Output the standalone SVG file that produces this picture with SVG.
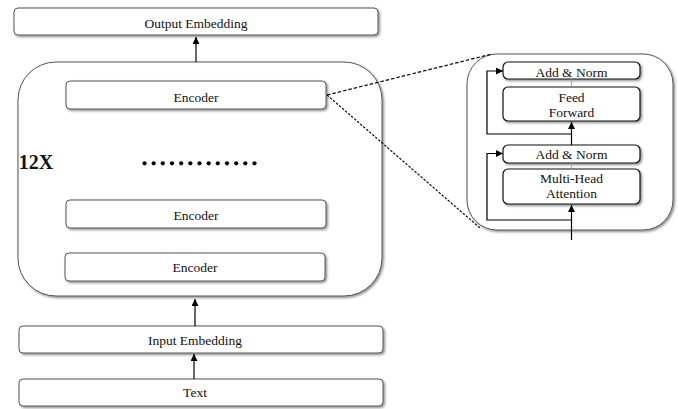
<svg xmlns="http://www.w3.org/2000/svg" width="678" height="409" viewBox="0 0 678 409">
<defs>
<filter id="sh" x="-10%" y="-20%" width="120%" height="150%">
<feDropShadow dx="1.5" dy="1.5" stdDeviation="1" flood-color="#000" flood-opacity="0.45"/>
</filter>
<marker id="ah" viewBox="0 0 10 10" refX="10" refY="5" markerWidth="8" markerHeight="7" markerUnits="userSpaceOnUse" orient="auto">
<path d="M0,0 L10,5 L0,10 z" fill="#000"/>
</marker>
</defs>
<style>
.box{fill:#fff;stroke:#555;stroke-width:1;filter:url(#sh)}
.sbox{fill:#fff;stroke:#111;stroke-width:1.2;filter:url(#sh)}
.big{fill:#fff;stroke:#555;stroke-width:1;filter:url(#sh)}
text{font-family:"Liberation Serif","Times New Roman",serif;font-size:13.5px;fill:#111;text-anchor:middle}
.ln{stroke:#000;stroke-width:1.2;fill:none}
.thin{stroke:#999;stroke-width:0.8;fill:none}
</style>
<rect width="678" height="409" fill="#fff"/>
<g id="encoder-stack">
<rect class="big" x="18" y="62" width="364" height="234" rx="38" ry="38"/>
<text x="36" y="169" style="font-size:20px;font-weight:bold">12X</text>
<g id="dots" fill="#000">
<circle cx="144.5" cy="163.3" r="2.1"/><circle cx="153.7" cy="163.3" r="2.1"/><circle cx="162.8" cy="163.3" r="2.1"/><circle cx="172" cy="163.3" r="2.1"/><circle cx="181.2" cy="163.3" r="2.1"/><circle cx="190.3" cy="163.3" r="2.1"/><circle cx="199.5" cy="163.3" r="2.1"/><circle cx="208.7" cy="163.3" r="2.1"/><circle cx="217.8" cy="163.3" r="2.1"/><circle cx="227" cy="163.3" r="2.1"/><circle cx="236.2" cy="163.3" r="2.1"/><circle cx="245.3" cy="163.3" r="2.1"/><circle cx="254.5" cy="163.3" r="2.1"/>
</g>
</g>
<g id="output-embedding"><rect class="box" x="14" y="8" width="364" height="27" rx="4"/><text x="196" y="28">Output Embedding</text></g>
<g id="encoder1"><rect class="box" x="66" y="81" width="260" height="28" rx="4"/><text x="196" y="101.5">Encoder</text></g>
<g id="encoder2"><rect class="box" x="66" y="200" width="260" height="28" rx="4"/><text x="196" y="220">Encoder</text></g>
<g id="encoder3"><rect class="box" x="65" y="253" width="260" height="28" rx="4"/><text x="195" y="272">Encoder</text></g>
<g id="input-embedding"><rect class="box" x="19" y="326" width="364" height="27" rx="4"/><text x="195" y="345">Input Embedding</text></g>
<g id="text"><rect class="box" x="19" y="379" width="364" height="27" rx="4"/><text x="195" y="397">Text</text></g>
<g id="detail-panel">
<rect class="big" x="467" y="54" width="206" height="176" rx="30" ry="30"/>
</g>
<g id="add-norm-1"><rect class="sbox" x="503" y="62" width="137" height="17" rx="5"/><text x="571.5" y="76.5">Add &amp; Norm</text></g>
<g id="feed-forward"><rect class="sbox" x="503" y="87" width="137" height="34" rx="5"/><text x="571.5" y="101.5">Feed</text><text x="571.5" y="116.5">Forward</text></g>
<g id="add-norm-2"><rect class="sbox" x="503" y="145" width="137" height="18" rx="5"/><text x="571.5" y="158.5">Add &amp; Norm</text></g>
<g id="multi-head"><rect class="sbox" x="503" y="169" width="137" height="35" rx="5"/><text x="571.5" y="183">Multi-Head</text><text x="571.5" y="198">Attention</text></g>
<g id="connectors">
<line class="ln" x1="196" y1="62" x2="196" y2="37" marker-end="url(#ah)"/>
<line class="ln" x1="195" y1="326" x2="195" y2="299" marker-end="url(#ah)"/>
<line class="ln" x1="194" y1="379" x2="194" y2="354" marker-end="url(#ah)"/>
<line x1="327" y1="95" x2="492" y2="54" stroke="#000" stroke-width="1.2" stroke-dasharray="3.5,2"/>
<line x1="327" y1="95" x2="480" y2="228" stroke="#000" stroke-width="1.1" stroke-dasharray="2.5,1.5"/>
<line class="ln" x1="571.5" y1="240" x2="571.5" y2="205" marker-end="url(#ah)"/>
<polyline class="ln" points="571.5,220 487,220 487,153.5 503,153.5" marker-end="url(#ah)"/>
<line class="thin" x1="571.5" y1="169" x2="571.5" y2="163"/>
<line class="ln" x1="571.5" y1="145" x2="571.5" y2="122" marker-end="url(#ah)"/>
<polyline class="ln" points="571.5,134 487,134 487,71 503,71" marker-end="url(#ah)"/>
<line class="thin" x1="571.5" y1="87" x2="571.5" y2="79"/>
</g>
</svg>
